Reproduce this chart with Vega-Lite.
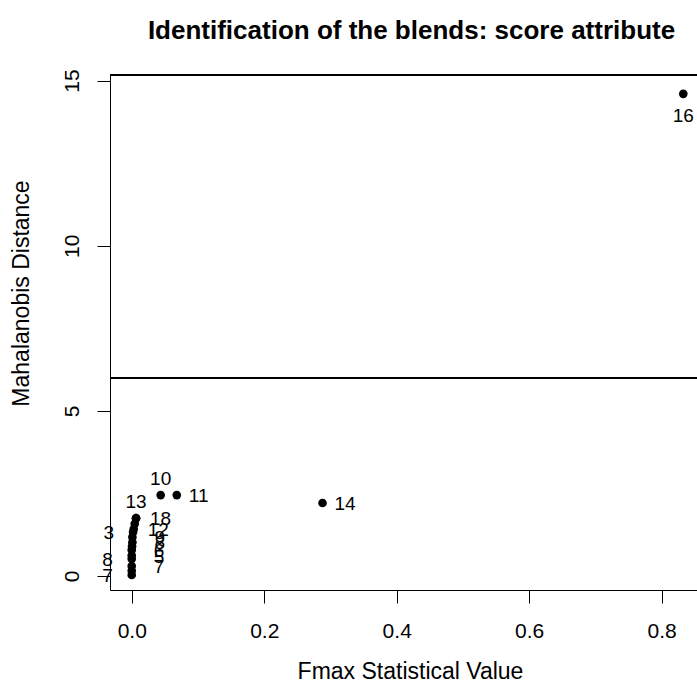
{
  "$schema": "https://vega.github.io/schema/vega-lite/v6.json",
  "width": 587,
  "height": 515,
  "autosize": {"type": "none"},
  "padding": {"left": 110, "top": 75, "right": 0, "bottom": 105},
  "background": "white",
  "title": {
    "text": "Identification of the blends: score attribute",
    "font": "Liberation Sans",
    "fontSize": 26,
    "fontWeight": "bold",
    "color": "black",
    "baseline": "alphabetic",
    "frame": "group",
    "anchor": "middle",
    "offset": 4,
    "dx": 8
  },
  "config": {
    "view": {"stroke": null},
    "axis": {
      "grid": false,
      "labelFont": "Liberation Sans",
      "titleFont": "Liberation Sans",
      "labelColor": "black",
      "titleColor": "black",
      "domainColor": "black",
      "tickColor": "black",
      "domainWidth": 1,
      "tickWidth": 1,
      "tickSize": 13,
      "labelFontSize": 21,
      "titleFontSize": 23,
      "titleFontWeight": "normal"
    }
  },
  "data": {
    "values": [
      {"id": 1, "x": 0.0065, "y": 1.75, "label": "13"},
      {"id": 2, "x": 0.0065, "y": 1.75, "label": "18"},
      {"id": 3, "x": 0.0045, "y": 1.58, "label": ""},
      {"id": 4, "x": 0.003, "y": 1.42, "label": "12"},
      {"id": 5, "x": 0.002, "y": 1.33, "label": "3"},
      {"id": 6, "x": 0.001, "y": 1.18, "label": "9"},
      {"id": 7, "x": 0.001, "y": 1.02, "label": "8"},
      {"id": 8, "x": 0.0005, "y": 0.9, "label": ""},
      {"id": 9, "x": 0.0, "y": 0.79, "label": "6"},
      {"id": 10, "x": 0.0, "y": 0.62, "label": "5"},
      {"id": 11, "x": 0.0, "y": 0.52, "label": "8"},
      {"id": 12, "x": 0.0, "y": 0.3, "label": "7"},
      {"id": 13, "x": 0.0, "y": 0.16, "label": ""},
      {"id": 14, "x": 0.0, "y": 0.03, "label": "7"},
      {"id": 15, "x": 0.0437, "y": 2.45, "label": "10"},
      {"id": 16, "x": 0.068, "y": 2.45, "label": "11"},
      {"id": 17, "x": 0.288, "y": 2.21, "label": "14"},
      {"id": 18, "x": 0.8326, "y": 14.6, "label": "16"}
    ]
  },
  "layer": [
    {
      "mark": {"type": "circle", "color": "black", "opacity": 1, "size": 75},
      "encoding": {
        "x": {
          "field": "x", "type": "quantitative",
          "scale": {"domain": [-0.0328, 0.8533], "nice": false, "zero": false},
          "axis": {
            "values": [0, 0.2, 0.4, 0.6, 0.8], "format": ".1f",
            "labelBaseline": "alphabetic", "labelPadding": 34,
            "title": "Fmax Statistical Value",
            "titleX": 300, "titleY": 88, "titleAlign": "center", "titleBaseline": "alphabetic"
          }
        },
        "y": {
          "field": "y", "type": "quantitative",
          "scale": {"domain": [-0.424, 15.17], "nice": false, "zero": false},
          "axis": {
            "values": [0, 5, 10, 15],
            "labelAngle": 270, "labelAlign": "center", "labelBaseline": "alphabetic", "labelPadding": 19,
            "title": "Mahalanobis Distance",
            "titleAngle": 270, "titleX": -82, "titleY": 218, "titleAlign": "center", "titleBaseline": "alphabetic"
          }
        }
      }
    },
    {
      "mark": {"type": "rule", "color": "black", "strokeWidth": 1},
      "encoding": {"y": {"datum": 15.17, "type": "quantitative", "title": "Mahalanobis Distance"}}
    },
    {
      "mark": {"type": "rule", "color": "black", "strokeWidth": 1},
      "encoding": {"y": {"datum": 6, "type": "quantitative", "title": "Mahalanobis Distance"}}
    },
    {
      "transform": [{"filter": {"field": "id", "oneOf": [1, 15]}}],
      "mark": {"type": "text", "font": "Liberation Sans", "fontSize": 19, "color": "black", "align": "center", "baseline": "alphabetic", "dy": -10},
      "encoding": {
        "x": {"field": "x", "type": "quantitative", "title": "Fmax Statistical Value"},
        "y": {"field": "y", "type": "quantitative", "title": "Mahalanobis Distance"},
        "text": {"field": "label"}
      }
    },
    {
      "transform": [{"filter": {"field": "id", "oneOf": [16, 17]}}],
      "mark": {"type": "text", "font": "Liberation Sans", "fontSize": 19, "color": "black", "align": "left", "baseline": "alphabetic", "dx": 12, "dy": 7},
      "encoding": {
        "x": {"field": "x", "type": "quantitative", "title": "Fmax Statistical Value"},
        "y": {"field": "y", "type": "quantitative", "title": "Mahalanobis Distance"},
        "text": {"field": "label"}
      }
    },
    {
      "transform": [{"filter": {"field": "id", "oneOf": [2, 4]}}],
      "mark": {"type": "text", "font": "Liberation Sans", "fontSize": 19, "color": "black", "align": "left", "baseline": "alphabetic", "dx": 14, "dy": 7},
      "encoding": {
        "x": {"field": "x", "type": "quantitative", "title": "Fmax Statistical Value"},
        "y": {"field": "y", "type": "quantitative", "title": "Mahalanobis Distance"},
        "text": {"field": "label"}
      }
    },
    {
      "transform": [{"filter": {"field": "id", "oneOf": [6, 7, 9, 10, 12]}}],
      "mark": {"type": "text", "font": "Liberation Sans", "fontSize": 19, "color": "black", "align": "left", "baseline": "alphabetic", "dx": 22, "dy": 7},
      "encoding": {
        "x": {"field": "x", "type": "quantitative", "title": "Fmax Statistical Value"},
        "y": {"field": "y", "type": "quantitative", "title": "Mahalanobis Distance"},
        "text": {"field": "label"}
      }
    },
    {
      "transform": [{"filter": {"field": "id", "oneOf": [5, 11, 14]}}],
      "mark": {"type": "text", "font": "Liberation Sans", "fontSize": 19, "color": "black", "align": "right", "baseline": "alphabetic", "dx": -19, "dy": 7},
      "encoding": {
        "x": {"field": "x", "type": "quantitative", "title": "Fmax Statistical Value"},
        "y": {"field": "y", "type": "quantitative", "title": "Mahalanobis Distance"},
        "text": {"field": "label"}
      }
    },
    {
      "transform": [{"filter": {"field": "id", "oneOf": [18]}}],
      "mark": {"type": "text", "font": "Liberation Sans", "fontSize": 19, "color": "black", "align": "center", "baseline": "alphabetic", "dy": 28},
      "encoding": {
        "x": {"field": "x", "type": "quantitative", "title": "Fmax Statistical Value"},
        "y": {"field": "y", "type": "quantitative", "title": "Mahalanobis Distance"},
        "text": {"field": "label"}
      }
    }
  ]
}
